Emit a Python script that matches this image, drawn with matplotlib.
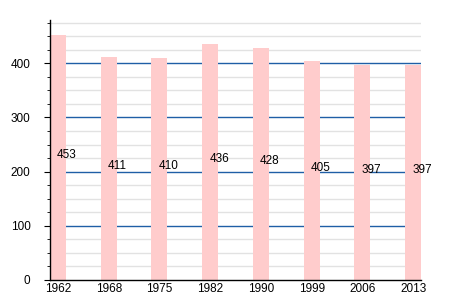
import matplotlib
matplotlib.use('Agg')
import matplotlib.pyplot as plt
import numpy as np

##### data #####
years = ['1962', '1968', '1975', '1982', '1990', '1999', '2006', '2013']
population = [453, 411, 410, 436, 428, 405, 397, 397]

##### figure #####
plt.rcParams['font.family'] = ['Liberation Sans', 'DejaVu Sans']
fig = plt.figure(figsize=(4.5, 3), dpi=100)
ax = fig.add_axes([0.111, 0.0667, 0.825, 0.8667])

x = np.arange(len(years))
bar_w = 0.316

# light grid every 25, blue grid every 100 (behind the bars)
for v in np.arange(25, 480, 25):
    if v % 100 == 0:
        ax.axhline(v, color='#1f5fa6', linewidth=1.0, zorder=1)
    else:
        ax.axhline(v, color='#e2e2e2', linewidth=1.0, zorder=0)

ax.bar(x, population, width=bar_w, color='#ffcccc', zorder=2)

for xi, val in zip(x, population):
    ax.text(xi - 0.02, val / 2 + 5, str(val), ha='left', va='center',
            fontsize=8.5, color='black', zorder=3)

ax.set_xlim(-bar_w / 2, len(years) - 1 + bar_w / 2)
ax.set_ylim(0, 480)
ax.set_xticks(x)
ax.set_xticklabels(years, fontsize=8.5)
ax.set_yticks([0, 100, 200, 300, 400])
ax.set_yticklabels(['0', '100', '200', '300', '400'], fontsize=8.5)
ax.set_yticks(np.arange(0, 480, 25), minor=True)
ax.tick_params(axis='x', length=0, pad=2)
ax.tick_params(axis='y', which='major', length=4, pad=10)
ax.tick_params(axis='y', which='minor', length=2)

for side in ['top', 'right']:
    ax.spines[side].set_visible(False)
ax.spines['left'].set_linewidth(1.0)
ax.spines['bottom'].set_linewidth(1.0)

plt.savefig('out.png', dpi=100)
